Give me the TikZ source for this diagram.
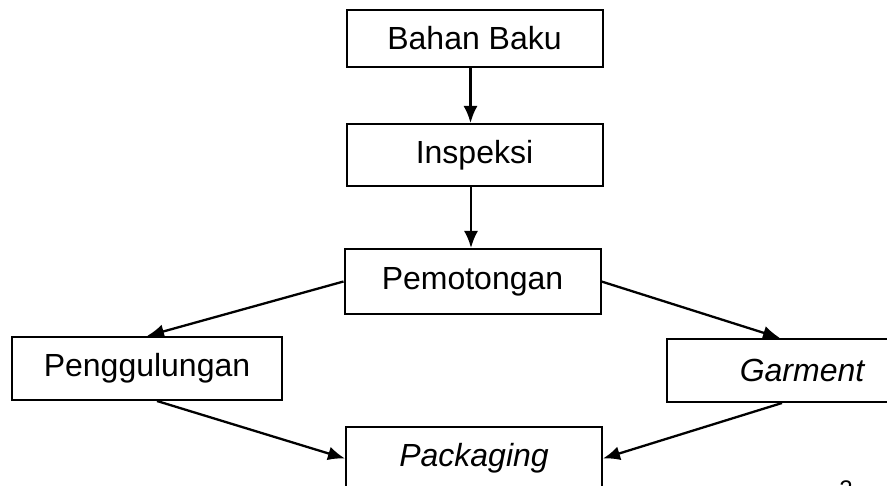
\documentclass[tikz,border=0pt]{standalone}
\usepackage{fontspec}
\setmainfont{Liberation Sans}
\usetikzlibrary{arrows.meta}
\begin{document}
\begin{tikzpicture}[x=1pt,y=-1pt,
  box/.style={draw=black, line width=2pt, minimum width=256pt, minimum height=60pt,
    inner sep=0pt, font=\fontsize{32}{38}\selectfont},
  flow/.style={draw=black, line width=2.3pt, -{Latex[length=17pt,width=14pt]}}]
\useasboundingbox (0,0) rectangle (887,486);
\clip (0,0) rectangle (887,486);
\fill[white] (0,0) rectangle (887,486);
\node[box, minimum height=57pt] (bahan) at (474.5,38.5) {Bahan Baku};
\node[box, minimum height=62pt] (insp) at (474.5,155) {Inspeksi};
\node[box, minimum height=65pt] (pem) at (472.5,281.5) {Pemotongan};
\node[box, minimum width=270pt, minimum height=63pt] (peng) at (147,368.5) {Penggulungan};
\node[box, minimum width=270pt, minimum height=63pt] (garm) at (802,370.5) {\itshape Garment};
\node[box, minimum height=63pt] (pack) at (474,458.5) {\itshape Packaging};
\node[font=\fontsize{24}{28}\selectfont, anchor=north, inner sep=0pt] (pg) at (846,481) {2};
\draw[flow] ([xshift=-4pt]bahan.south) -- ([xshift=-4pt]insp.north);
\draw[flow] ([xshift=-3.5pt]insp.south) -- ([xshift=-1.5pt]pem.north);
\draw[flow] (pem.west) -- (peng.north);
\draw[flow] (pem.east) -- ([xshift=-22pt]garm.north);
\draw[flow] ([xshift=10pt]peng.south) -- (pack.west);
\draw[flow] ([xshift=-20pt]garm.south) -- (pack.east);
\end{tikzpicture}
\end{document}
